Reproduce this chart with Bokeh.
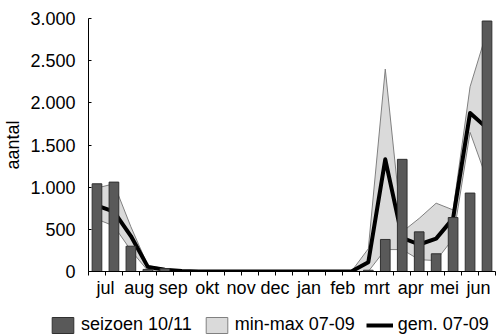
from bokeh.plotting import figure
from bokeh.models import Range1d, FixedTicker, Legend, LegendItem
from bokeh.layouts import column
from bokeh.embed import file_html
from bokeh.resources import INLINE
import numpy as np

# 24 half-month slots, July .. June
months = ["jul", "aug", "sep", "okt", "nov", "dec", "jan", "feb", "mrt", "apr", "mei", "jun"]

seizoen_10_11 = [1040, 1060, 300, 25, 35, 0, 0, 0, 0, 0, 0, 0,
                 0, 0, 0, 0, 15, 380, 1330, 470, 210, 640, 930, 2970]
gem_07_09 = [780, 710, 420, 55, 20, 5, 0, 0, 0, 0, 0, 0,
             0, 0, 0, 0, 110, 1330, 400, 320, 390, 630, 1880, 1700]
max_07_09 = [990, 1040, 530, 70, 35, 5, 0, 0, 0, 0, 0, 0,
             0, 0, 0, 0, 270, 2400, 470, 630, 810, 730, 2190, 2850]
min_07_09 = [620, 540, 250, 10, 0, 0, 0, 0, 0, 0, 0, 0,
             0, 0, 0, 0, 0, 260, 260, 140, 130, 390, 1650, 1090]

y_ticks = [0, 500, 1000, 1500, 2000, 2500, 3000]
y_tick_labels = ["0", "500", "1.000", "1.500", "2.000", "2.500", "3.000"]
legend_labels = ["seizoen 10/11", "min-max 07-09", "gem. 07-09"]

FONT = "Liberation Sans"
BAR_FILL, BAR_LINE = "#595959", "#303030"
BAND_FILL, BAND_LINE = "#dadada", "#808080"

n = len(seizoen_10_11)
x = np.arange(n) + 0.5

p = figure(width=496, height=301, output_backend="svg", toolbar_location=None,
           x_range=Range1d(0, n), y_range=Range1d(0, 3000),
           min_border_left=83, min_border_right=1, min_border_top=18,
           min_border_bottom=30)
p.outline_line_color = None

band_x = list(x) + list(x[::-1])
band_y = list(max_07_09) + list(min_07_09[::-1])
p.patch(band_x, band_y, fill_color=BAND_FILL, line_color=BAND_LINE, line_width=1)
p.line(x, gem_07_09, line_color="black", line_width=4, line_join="round")
p.vbar(x=x, top=seizoen_10_11, width=0.57, fill_color=BAR_FILL,
       line_color=BAR_LINE, line_width=1)

# axes
p.xaxis.ticker = FixedTicker(ticks=list(range(n + 1)))
overrides = {i: "" for i in range(n + 1)}
for j, m in enumerate(months):
    overrides[2 * j + 1] = m
p.xaxis.major_label_overrides = overrides
p.xaxis.major_tick_out = 4
p.xaxis.major_tick_in = 0
p.xaxis.minor_tick_line_color = None
p.xaxis.major_label_standoff = 2
p.xaxis.axis_line_color = "black"
p.xaxis.major_tick_line_color = "black"
p.xaxis.major_label_text_font = FONT
p.xaxis.major_label_text_font_size = "18px"
p.xaxis.major_label_text_color = "black"

p.yaxis.ticker = FixedTicker(ticks=y_ticks)
p.yaxis.major_label_overrides = dict(zip(y_ticks, y_tick_labels))
p.yaxis.major_tick_in = 3
p.yaxis.major_tick_out = 0
p.yaxis.minor_tick_line_color = None
p.yaxis.major_label_standoff = 13
p.yaxis.axis_line_color = "black"
p.yaxis.major_tick_line_color = "black"
p.yaxis.major_label_text_font = FONT
p.yaxis.major_label_text_font_size = "18px"
p.yaxis.major_label_text_color = "black"
p.yaxis.axis_label = "aantal"
p.yaxis.axis_label_standoff = 4
p.yaxis.axis_label_text_font = FONT
p.yaxis.axis_label_text_font_size = "18px"
p.yaxis.axis_label_text_font_style = "normal"
p.yaxis.axis_label_text_color = "black"

p.xgrid.visible = False
p.ygrid.ticker = FixedTicker(ticks=[3000])
p.ygrid.grid_line_color = "#808080"

# legend strip below the chart (renderers hold no drawable data; they only
# provide the legend swatches)
lg = figure(width=496, height=35, output_backend="svg", toolbar_location=None,
            x_range=Range1d(0, 1), y_range=Range1d(0, 1),
            x_axis_location=None, y_axis_location=None, min_border=0)
try:
    lg.frame_align = False
except Exception:
    pass
lg.outline_line_color = None
lg.xgrid.visible = False
lg.ygrid.visible = False
r_bar = lg.vbar(x=[np.nan], top=[np.nan], width=0.5, fill_color=BAR_FILL, line_color=BAR_LINE)
r_band = lg.patch([np.nan], [np.nan], fill_color=BAND_FILL, line_color=BAND_LINE)
r_line = lg.line([np.nan], [np.nan], line_color="black", line_width=4)

legend = Legend(items=[LegendItem(label=legend_labels[0], renderers=[r_bar]),
                       LegendItem(label=legend_labels[1], renderers=[r_band]),
                       LegendItem(label=legend_labels[2], renderers=[r_line])],
                orientation="horizontal", location=(49, 1),
                glyph_width=27, glyph_height=20, label_height=20,
                label_standoff=5, spacing=11, padding=0, margin=0,
                border_line_color=None, background_fill_alpha=0,
                label_text_font=FONT, label_text_font_size="18px",
                label_text_color="black")
lg.add_layout(legend, "center")

layout = column(p, lg, spacing=0)
open("out.html", "w").write(file_html(layout, INLINE))
